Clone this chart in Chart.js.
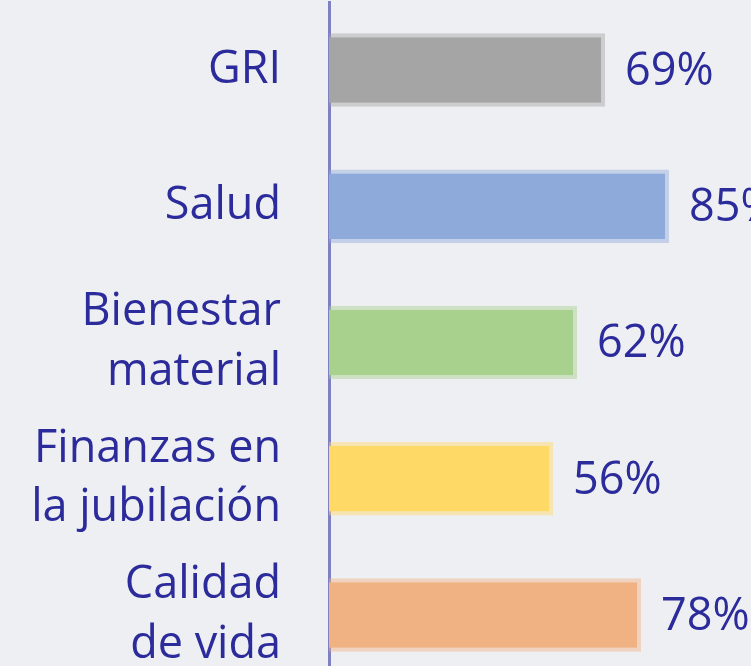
<!DOCTYPE html>
<html>
<head>
<meta charset="utf-8">
<script src="https://cdn.jsdelivr.net/npm/chart.js@4/dist/chart.umd.min.js"></script>
<style>
  html, body { margin: 0; padding: 0; overflow: hidden; background: #eeeff2; }
  #wrap { position: relative; width: 751px; height: 684px; }
</style>
</head>
<body>
<div id="wrap"><canvas id="barChart"></canvas></div>
<script>
const categories = [['GRI'], ['Salud'], ['Bienestar', 'material'], ['Finanzas en', 'la jubilación'], ['Calidad', 'de vida']];
const values = [69, 85, 62, 56, 78];
const valueLabels = ['69%', '85%', '62%', '56%', '78%'];
const barColors = ['#a5a5a5', '#8eaadb', '#a9d18e', '#ffd966', '#f0b183'];
const edgeColors = ['rgba(165,165,165,0.45)', 'rgba(142,170,219,0.45)', 'rgba(169,209,142,0.45)', 'rgba(255,217,102,0.45)', 'rgba(240,177,131,0.45)'];

const textBlue = '#2b2b9b';
const fontFamily = '"Open Sans", "Noto Sans", sans-serif';

// value text at the end of each bar
const valueText = {
    id: 'valueText',
    afterDatasetsDraw(chart) {
        const ctx = chart.ctx;
        const meta = chart.getDatasetMeta(0);
        ctx.save();
        ctx.font = '45px ' + fontFamily;
        ctx.fillStyle = textBlue;
        ctx.textAlign = 'left';
        ctx.textBaseline = 'middle';
        meta.data.forEach((bar, i) => {
            ctx.fillText(valueLabels[i], bar.x + 20, bar.y + 2);
        });
        ctx.restore();
    }
};

const ctx = document.getElementById('barChart').getContext('2d');
const barChart = new Chart(ctx, {
    type: 'bar',
    data: {
        labels: categories,
        datasets: [{
            data: values,
            backgroundColor: barColors,
            borderColor: edgeColors,
            borderWidth: 4,
            borderSkipped: 'left',
            categoryPercentage: 1,
            barPercentage: 0.54
        }]
    },
    options: {
        indexAxis: 'y',
        responsive: true,
        maintainAspectRatio: false,
        animation: false,
        layout: { padding: { top: 2, bottom: 1, left: 0, right: 0 } },
        scales: {
            x: {
                display: false,
                min: 0,
                max: 105.5
            },
            y: {
                afterFit: (scale) => {
                    scale.width = 329;
                    scale.paddingTop = 0;
                    scale.paddingBottom = 0;
                },
                grid: { display: false, drawTicks: false },
                border: { display: true, color: '#7f7fc2', width: 3 },
                ticks: {
                    padding: 48,
                    color: textBlue,
                    font: { family: fontFamily, size: 45, lineHeight: 1.33 }
                }
            }
        },
        plugins: {
            legend: { display: false },
            tooltip: { enabled: false }
        }
    },
    plugins: [valueText]
});
</script>
</body>
</html>
